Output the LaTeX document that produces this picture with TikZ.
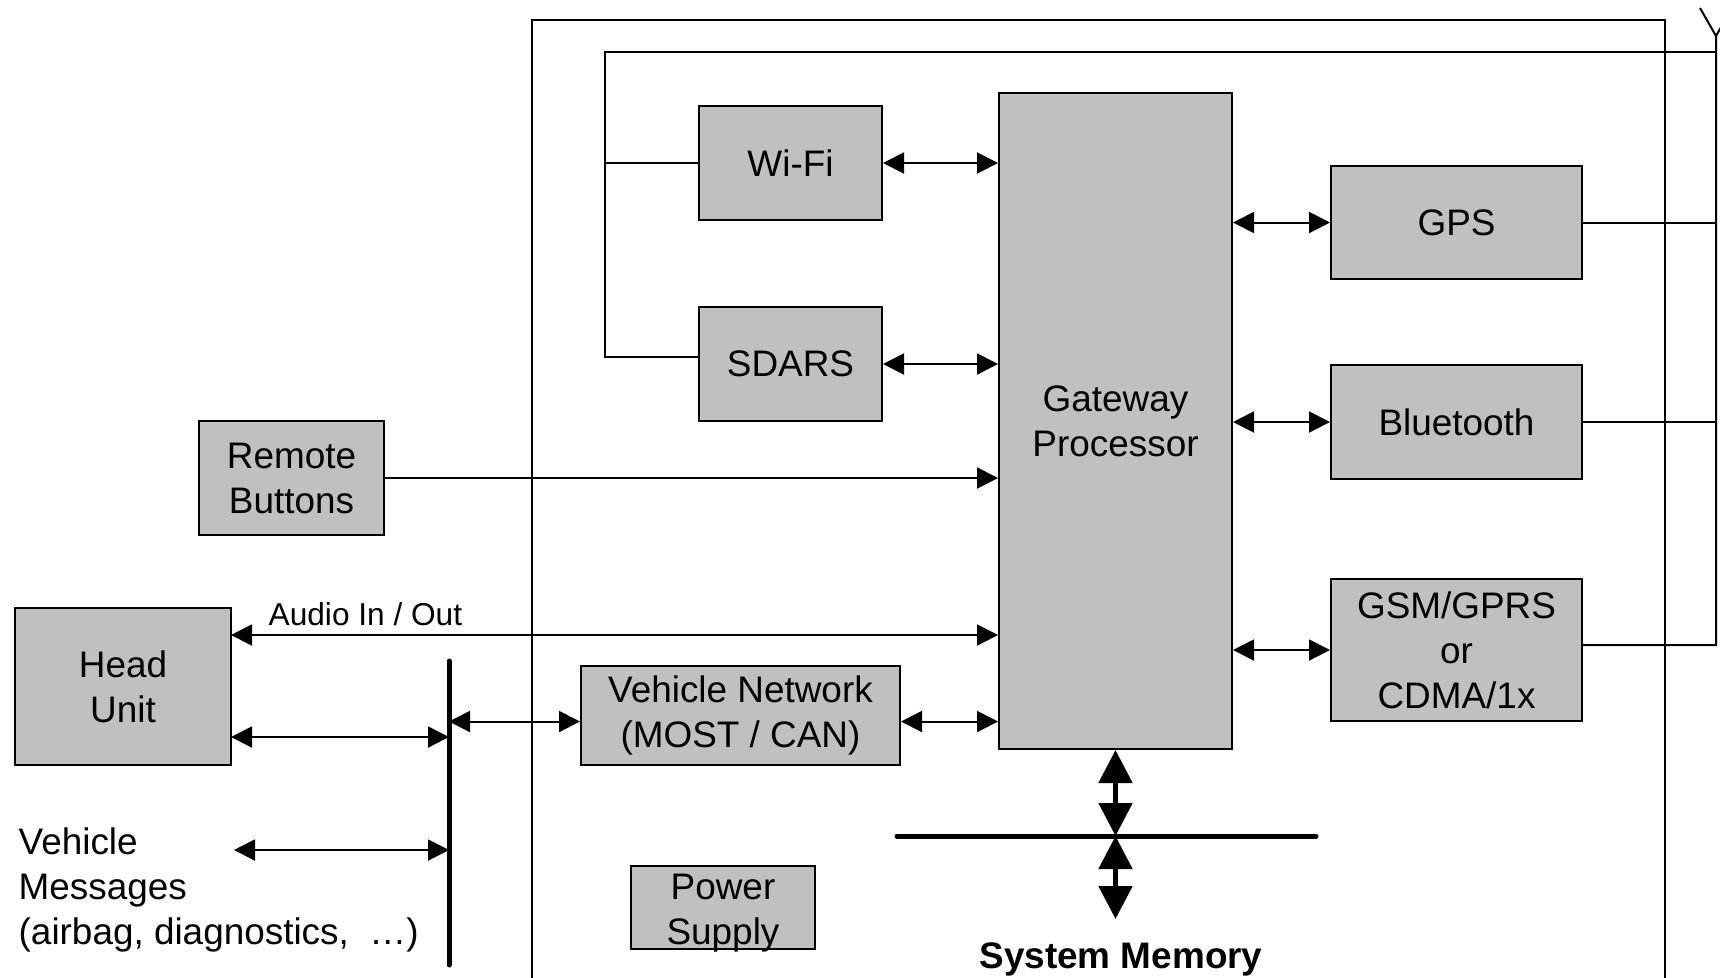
\documentclass[tikz,border=0pt]{standalone}
\usepackage{fontspec}
\setmainfont{Liberation Sans}
\usepackage{tikz}
\usetikzlibrary{arrows.meta}
\definecolor{boxgray}{RGB}{192,192,192}

\begin{document}
\begin{tikzpicture}[x=0.1mm, y=-0.1mm,
    box/.style={draw, fill=boxgray, line width=0.2mm, align=center, inner sep=0pt, font=\fontsize{10.5}{12.8}\selectfont},
    wire/.style={line width=0.2mm},
    arr/.style={line width=0.2mm, {Triangle[length=2.1mm,width=2.1mm]}-{Triangle[length=2.1mm,width=2.1mm]}},
    bigarr/.style={line width=0.5mm, {Triangle[length=3.3mm,width=3.3mm]}-{Triangle[length=3.3mm,width=3.3mm]}},
    busline/.style={line width=0.5mm, line cap=round},
    lbl/.style={inner sep=0pt, font=\fontsize{10.5}{12.8}\selectfont}]

    \clip (0,0) rectangle (1720,977);

    % enclosure
    \draw[wire] (532,1000) -- (532,20) -- (1665,20) -- (1665,1000);

    \node[box, minimum width=18.3mm, minimum height=11.4mm] (wifi) at (790.5,163) {Wi-Fi};
    \node[box, minimum width=18.3mm, minimum height=11.4mm] (sdars) at (790.5,364) {SDARS};
    \node[box, minimum width=23.3mm, minimum height=65.6mm] (gw) at (1115.5,421) {Gateway\\Processor};
    \node[box, minimum width=25.1mm, minimum height=11.3mm] (gps) at (1456.5,222.5) {GPS};
    \node[box, minimum width=25.1mm, minimum height=11.4mm] (bt) at (1456.5,422) {Bluetooth};
    \node[box, minimum width=25.1mm, minimum height=14.2mm] (gsm) at (1456.5,650) {GSM/GPRS\\or\\CDMA/1x};
    \node[box, minimum width=18.5mm, minimum height=11.4mm] (remote) at (291.5,478) {Remote\\Buttons};
    \node[box, minimum width=21.6mm, minimum height=15.7mm] (head) at (123,686.5) {Head\\Unit};
    \node[box, minimum width=31.9mm, minimum height=9.9mm] (vn) at (740.5,715.5) {Vehicle Network\\(MOST / CAN)};
    \node[box, minimum width=18.4mm, minimum height=8.3mm] (power) at (723,907.5) {\raisebox{-0.6mm}[\height][\depth]{Power}\\\raisebox{-0.6mm}[\height][\depth]{Supply}};

    \node[lbl, anchor=north west, align=left] (vmsg) at (18,827) {Vehicle\\Messages\\(airbag, diagnostics,~~…)};
    \node[lbl, anchor=base west, font=\fontsize{9}{11}\selectfont] (audiolbl) at (268,625) {Audio In / Out};
    \node[lbl, anchor=base, font=\fontsize{10.5}{12.8}\selectfont\bfseries] (memlbl) at (1121,968) {System Memory};

    % antenna wiring
    \coordinate (wtop) at (605,52);
    \coordinate (antT) at (1716,36);
    \coordinate (antL) at (1700,8);
    \coordinate (antR) at (1732,8);
    \path ([yshift=0.7mm]sdars.west) coordinate (sdw);
    \path ([yshift=0.5mm]gsm.east) coordinate (gsme);
    \draw[wire] (antT |- wtop) -- (wtop) |- (sdw);
    \draw[wire] (wtop |- wifi.west) -- (wifi.west);
    \draw[wire] (gsme) -| (antT) -- (antL);
    \draw[wire] (antT) -- (antR);
    \draw[wire] (gps.east) -- (gps.east -| antT);
    \draw[wire] (bt.east) -- (bt.east -| antT);

    \draw[arr] (wifi.east) -- (wifi.east -| gw.west);
    \draw[arr] (sdars.east) -- (sdars.east -| gw.west);
    \draw[wire, -{Triangle[length=2.1mm,width=2.1mm]}] (remote.east) -- (remote.east -| gw.west);
    \draw[arr] (gw.east |- gps.west) -- (gps.west);
    \draw[arr] (gw.east |- bt.west) -- (bt.west);
    \draw[arr] (gw.east |- gsm.west) -- (gsm.west);

    % vehicle bus
    \coordinate (busT) at (449,661);
    \coordinate (busB) at (449,965);
    \coordinate (audio) at (231,635);
    \coordinate (hu) at (231,737);
    \coordinate (vm) at (234,850);
    \path ([yshift=-0.6mm]vn.west) coordinate (vnw);
    \path ([yshift=-0.6mm]vn.east) coordinate (vne);
    \draw[busline] (busT) -- (busB);
    \draw[arr] (audio) -- (audio -| gw.west);
    \draw[arr] (hu) -- (hu -| busT);
    \draw[arr] (vm) -- (vm -| busT);
    \draw[arr] (vnw -| busT) -- (vnw);
    \draw[arr] (vne) -- (vne -| gw.west);

    % memory bus
    \coordinate (memL) at (897,836);
    \coordinate (memR) at (1316,836);
    \coordinate (memT) at (1117,919);
    \draw[busline] (memL) -- (memR);
    \draw[bigarr] (gw.south) -- (gw.south |- memL);
    \draw[bigarr] (gw.south |- memL) -- (gw.south |- memT);
\end{tikzpicture}
\end{document}
